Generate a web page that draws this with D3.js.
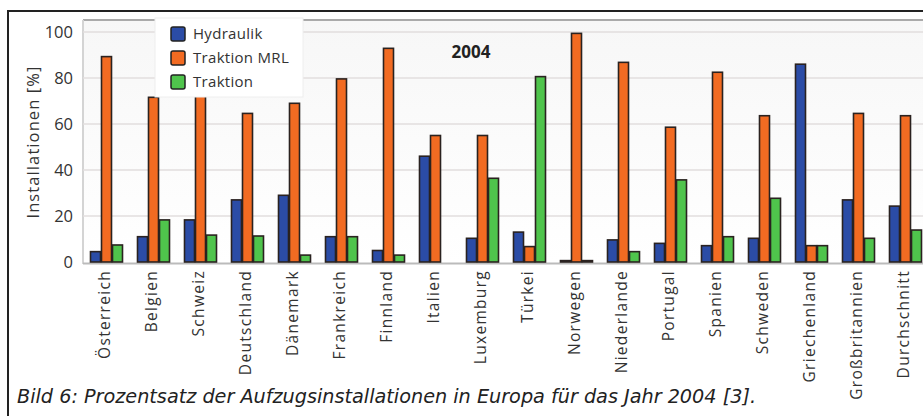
<!DOCTYPE html>
<html><head><meta charset="utf-8">
<script src="https://cdn.jsdelivr.net/npm/d3@7"></script>
<style>
html,body{margin:0;padding:0;background:#fff;}
svg{display:block;font-family:"Open Sans",sans-serif;}
</style></head>
<body><svg id="c" width="923" height="416"></svg>
<script>
const categories = ["Österreich","Belgien","Schweiz","Deutschland","Dänemark","Frankreich","Finnland","Italien","Luxemburg","Türkei","Norwegen","Niederlande","Portugal","Spanien","Schweden","Griechenland","Großbritannien","Durchschnitt"];
const seriesNames = ["Hydraulik","Traktion MRL","Traktion"];
const hydraulik   = [4.5, 11, 18.3, 27, 29, 11, 5, 46, 10.3, 13, 0.6, 9.6, 8.1, 7.1, 10.3, 86, 27, 24.3];
const traktionMRL = [89.3, 71.6, 74, 64.6, 69, 79.6, 92.9, 55, 55, 6.7, 99.4, 86.8, 58.6, 82.5, 63.6, 7.1, 64.6, 63.6];
const traktion    = [7.4, 18.3, 11.7, 11.3, 3, 11, 3, 0, 36.4, 80.6, 0.6, 4.5, 35.7, 11, 27.7, 7.1, 10.3, 13.9];
const yTicks = [0, 20, 40, 60, 80, 100];
const colors = ["#2b4ca6", "#f26b22", "#4fc44c"];
const title = "2004";
const yLabel = "Installationen [%]";
const caption = "Bild 6: Prozentsatz der Aufzugsinstallationen in Europa für das Jahr 2004 [3].";

const values = [hydraulik, traktionMRL, traktion];
const svg = d3.select("#c");

// outer frame
svg.append("rect").attr("x", 8).attr("y", 11).attr("width", 1000).attr("height", 500)
  .attr("fill", "#fff").attr("stroke", "#222").attr("stroke-width", 2);

const plotLeft = 83, plotTop = 20, baseY = 262;
const x = d3.scaleBand().domain(categories).range([plotLeft, plotLeft + 47 * categories.length]).paddingInner(0).paddingOuter(0);
const y = d3.scaleLinear().domain([0, 100]).range([baseY, 32]);
const xs = d3.scaleBand().domain(seriesNames).range([0, 33]);

// plot background
const defs = svg.append("defs");
const grad = defs.append("linearGradient").attr("id", "bg").attr("x1", 0).attr("y1", 0).attr("x2", 0).attr("y2", 1);
grad.append("stop").attr("offset", "0%").attr("stop-color", "#f7f7f7");
grad.append("stop").attr("offset", "100%").attr("stop-color", "#ffffff");
svg.append("rect").attr("x", plotLeft).attr("y", plotTop).attr("width", 1000).attr("height", baseY - plotTop)
  .attr("fill", "url(#bg)");
svg.append("line").attr("x1", plotLeft).attr("x2", 1000).attr("y1", plotTop).attr("y2", plotTop)
  .attr("stroke", "#aaa").attr("stroke-width", 2);
svg.append("line").attr("x1", plotLeft).attr("x2", plotLeft).attr("y1", plotTop).attr("y2", baseY + 2)
  .attr("stroke", "#d4d4d4").attr("stroke-width", 2);

// gridlines
svg.append("g").selectAll("line").data(yTicks.filter(d => d > 0)).join("line")
  .attr("x1", plotLeft).attr("x2", 1000).attr("y1", d => y(d)).attr("y2", d => y(d))
  .attr("stroke", "#e2dede").attr("stroke-width", 1.5);

// y axis
const yAxis = svg.append("g").attr("transform", `translate(${plotLeft - 4},0)`)
  .call(d3.axisLeft(y).tickValues(yTicks).tickSize(0).tickPadding(6));
yAxis.select(".domain").remove();
yAxis.selectAll("text").attr("font-size", 16.5).attr("fill", "#333").attr("font-family", "Open Sans");

svg.append("text").attr("transform", `translate(33,${142}) rotate(-90)`)
  .attr("text-anchor", "middle").attr("dy", "0.35em").attr("font-size", 16.5).attr("fill", "#333")
  .attr("letter-spacing", 1.1)
  .text(yLabel);

// baseline
svg.append("line").attr("x1", plotLeft).attr("x2", 1000).attr("y1", baseY + 1.5).attr("y2", baseY + 1.5)
  .attr("stroke", "#bbb").attr("stroke-width", 2);

// bars
const groups = svg.append("g").selectAll("g").data(categories).join("g")
  .attr("transform", d => `translate(${x(d) + (x.bandwidth() - 33) / 2},0)`);
groups.selectAll("rect")
  .data((d, i) => seriesNames.map((s, k) => ({ s, k, v: values[k][i] })).filter(e => e.v > 0))
  .join("rect")
  .attr("x", d => xs(d.s) + 0.5)
  .attr("width", xs.bandwidth() - 1)
  .attr("y", d => y(d.v))
  .attr("height", d => Math.max(0.5, baseY - y(d.v)))
  .attr("fill", d => colors[d.k])
  .attr("stroke", "#2a2220").attr("stroke-width", 1.6);

// x labels
svg.append("g").selectAll("text").data(categories).join("text")
  .attr("transform", d => `translate(${x(d) + x.bandwidth() / 2 - 2},270) rotate(-90)`)
  .attr("text-anchor", "end").attr("dy", "0.35em").attr("font-size", 15.5).attr("fill", "#333")
  .attr("letter-spacing", 1.3)
  .text(d => d);

// legend
const lg = svg.append("g");
lg.append("rect").attr("x", 155).attr("y", 18).attr("width", 148).attr("height", 79)
  .attr("fill", "#fff").attr("stroke", "#eee").attr("stroke-width", 1);
seriesNames.forEach((s, k) => {
  const cy = 34 + k * 24;
  lg.append("rect").attr("x", 171).attr("y", cy - 7).attr("width", 14).attr("height", 14)
    .attr("rx", 2).attr("fill", colors[k]).attr("stroke", "#222").attr("stroke-width", 1.5);
  lg.append("text").attr("x", 193).attr("y", cy).attr("dy", "0.35em").attr("font-size", 15)
    .attr("fill", "#333").attr("letter-spacing", 0.3).text(s);
});

// title
svg.append("text").attr("x", 471).attr("y", 52).attr("dy", "0.35em").attr("text-anchor", "middle")
  .attr("font-size", 17).attr("font-weight", "bold").attr("fill", "#222").text(title);

// caption
svg.append("text").attr("x", 17).attr("y", 403).attr("font-size", 20).attr("font-style", "italic")
  .attr("font-family", "Liberation Sans Narrow, DejaVu Sans Condensed, sans-serif")
  .attr("fill", "#222").attr("textLength", 739).attr("lengthAdjust", "spacingAndGlyphs")
  .text(caption);
</script></body></html>
